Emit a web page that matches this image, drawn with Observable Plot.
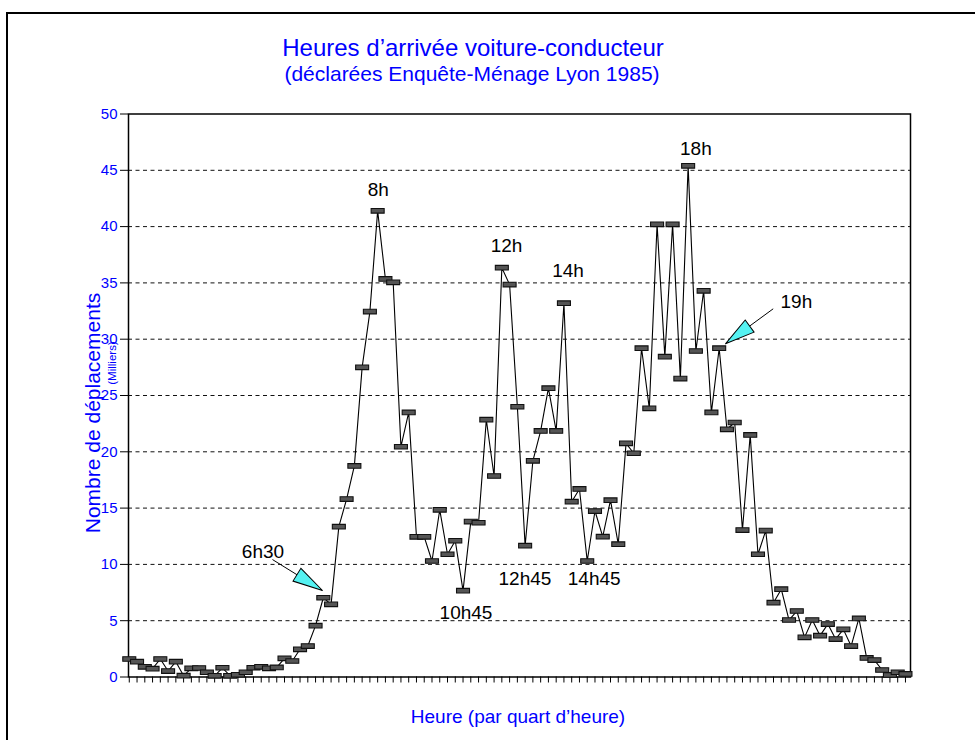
<!DOCTYPE html>
<html><head><meta charset="utf-8">
<script src="https://cdn.jsdelivr.net/npm/d3@7"></script>
<script src="https://cdn.jsdelivr.net/npm/@observablehq/plot@0.6"></script>
<style>
body{margin:0;background:#fff;font-family:"Liberation Sans",Arial,sans-serif;}
#wrap{position:relative;width:975px;height:740px;overflow:hidden;background:#fff;}
.frame{position:absolute;left:6px;top:12px;width:1000px;height:800px;border-top:2px solid #000;border-left:2px solid #000;}
.t{position:absolute;color:#0000ff;white-space:nowrap;line-height:1;font-family:"Liberation Sans",Arial,sans-serif;}
#plot{position:absolute;left:0;top:90px;}
</style></head><body>
<div id="wrap">
  <div class="frame"></div>
  <div class="t" id="title" style="left:473px;top:35.7px;font-size:24px;transform:translateX(-50%);">Heures d’arrivée voiture-conducteur</div>
  <div class="t" id="subtitle" style="left:472px;top:62.7px;font-size:21px;transform:translateX(-50%);">(déclarées Enquête-Ménage Lyon 1985)</div>
  <div id="plot"></div>
  <div class="t" id="ylabel" style="left:92px;top:413px;font-size:21px;transform:translate(-50%,-50%) rotate(-90deg);">Nombre de déplacements</div>
  <div class="t" id="yunit" style="left:113px;top:363px;font-size:11.5px;transform:translate(-50%,-50%) rotate(-90deg);">(Milliers)</div>
  <div class="t" id="xlabel" style="left:518px;top:706.9px;font-size:19px;transform:translateX(-50%);">Heure (par quart d’heure)</div>
</div>
<script>
// Arrivals per quarter hour (thousands), index 0 = 0h00
const values = [1.6,1.36,0.9,0.74,1.6,0.53,1.36,0.12,0.77,0.8,
  0.42,0.1,0.82,0.1,0.2,0.42,0.82,0.9,0.77,0.85,
  1.66,1.42,2.46,2.75,4.56,7.04,6.45,13.35,15.8,18.75,
  27.5,32.45,41.4,35.35,35.05,20.45,23.5,12.45,12.45,10.3,
  14.85,10.9,12.1,7.67,13.8,13.7,22.85,17.85,36.35,34.85,
  24.0,11.66,19.2,21.85,25.65,21.85,33.2,15.57,16.7,10.3,
  14.74,12.46,15.7,11.8,20.75,19.87,29.2,23.86,40.2,28.45,
  40.2,26.5,45.4,28.95,34.3,23.5,29.2,22.0,22.6,13.05,
  21.5,10.9,13.0,6.6,7.8,5.06,5.86,3.52,5.06,3.67,
  4.7,3.37,4.23,2.75,5.2,1.69,1.5,0.62,0.18,0.42,0.27];
const yTicks = [0,5,10,15,20,25,30,35,40,45,50];
const gridLines = [5,10,15,20,25,30,35,40,45];
// annotation labels (x = quarter index, y = value at text baseline)
const labelText = ["8h","12h","14h","18h","19h","6h30","10h45","12h45","14h45"];
const labelX = [32.08,48.6,56.53,73.0,85.95,17.23,43.38,50.98,59.9];
const labelY = [42.76,37.7,35.5,46.4,32.8,10.6,5.17,8.13,8.13];
// arrows: start (near label) and tip
const arrowX1 = [18.45,82.96];
const arrowY1 = [10.43,32.7];
const arrowX2 = [24.89,76.81];
const arrowY2 = [7.68,29.59];

const W = 975, H = 650;
const mL = 128, mR = 65, mT = 23.5, mB = 63.5;
const xDomain = [-0.1, 100.65];
const yDomain = [0, 50];
const kx = (W - mL - mR) / (xDomain[1] - xDomain[0]);
const ky = (H - mT - mB) / (yDomain[1] - yDomain[0]);

const data = values.map((v, i) => ({i, v}));
const labels = labelText.map((t, k) => ({t, x: labelX[k], y: labelY[k]}));
const arrows = arrowX1.map((x1, k) => {
  const x2 = arrowX2[k], y1 = arrowY1[k], y2 = arrowY2[k];
  const ang = Math.atan2(-(y2 - y1) * ky, (x2 - x1) * kx) * 180 / Math.PI;
  return {x1, y1, x2, y2, ang};
});

const marker = {draw(ctx) {
  ctx.moveTo(-6.5, -2.3); ctx.lineTo(6.5, -2.3); ctx.lineTo(6.5, 2.3); ctx.lineTo(-6.5, 2.3); ctx.closePath();
}};
const arrowHead = {draw(ctx) {
  ctx.moveTo(0, 0); ctx.lineTo(-30, -7.5); ctx.lineTo(-30, 7.5); ctx.closePath();
}};

const plot = Plot.plot({
  width: W, height: H,
  marginLeft: mL, marginRight: mR, marginTop: mT, marginBottom: mB,
  style: {fontFamily: "'Liberation Sans', Arial, sans-serif", fontSize: "15px", background: "transparent"},
  x: {domain: xDomain, axis: null},
  y: {domain: yDomain, axis: null},
  marks: [
    Plot.ruleY(gridLines, {stroke: "#111", strokeDasharray: "4,3.5", strokeWidth: 1}),
    Plot.axisY(yTicks, {tickSize: 8, tickPadding: 3, fill: "#0000ff", stroke: "#000", fontSize: 15, label: null}),
    Plot.axisX(d3.range(values.length), {tickSize: 6, tickFormat: () => "", stroke: "#000", label: null}),
    Plot.frame({stroke: "#000", strokeWidth: 1.5}),
    Plot.line(data, {x: "i", y: "v", stroke: "#000", strokeWidth: 1.1}),
    Plot.dot(data, {x: "i", y: "v", symbol: marker, fill: "#555", stroke: "#111", strokeWidth: 1.1}),
    Plot.link(arrows, {x1: "x1", y1: "y1", x2: "x2", y2: "y2", stroke: "#000", strokeWidth: 1}),
    Plot.dot(arrows, {x: "x2", y: "y2", symbol: arrowHead, rotate: "ang", fill: "#55f2f2", stroke: "#000", strokeWidth: 1}),
    Plot.text(labels, {x: "x", y: "y", text: "t", fill: "#000", fontSize: 19, lineAnchor: "bottom", textAnchor: "middle"})
  ]
});
document.getElementById("plot").appendChild(plot);
</script>
</body></html>
